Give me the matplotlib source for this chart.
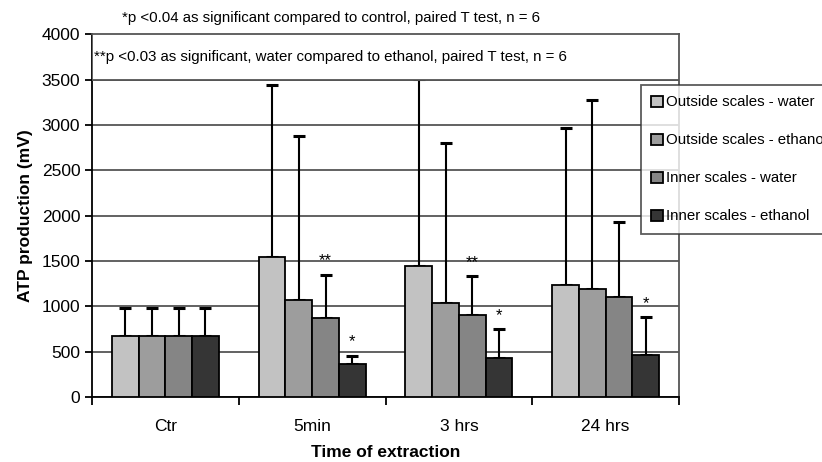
import matplotlib.pyplot as plt
import numpy as np
from matplotlib.patches import Rectangle

plt.rcParams['font.family'] = ['Liberation Sans', 'DejaVu Sans']

categorias = ['Ctr', '5min', '3 hrs', '24 hrs']
series = ['Outside scales - water', 'Outside scales - ethanol',
          'Inner scales - water', 'Inner scales - ethanol']

# valores medios (mV)
out_agua = [670, 1540, 1445, 1235]
out_etanol = [670, 1065, 1030, 1185]
int_agua = [670, 865, 900, 1105]
int_etanol = [670, 360, 430, 465]

# desviacion (solo hacia arriba)
out_agua_sd = [315, 1900, 2060, 1730]
out_etanol_sd = [315, 1810, 1770, 2090]
int_agua_sd = [315, 480, 430, 820]
int_etanol_sd = [315, 95, 315, 415]

# marcas de significancia sobre cada barra
marcas_int_agua = ['', '**', '**', '']
marcas_int_etanol = ['', '*', '*', '*']

colores = ['#c2c2c2', '#9d9d9d', '#858585', '#353535']

fig = plt.figure(figsize=(8.22, 4.62), dpi=100)
ax = fig.add_axes([0.112, 0.141, 0.714, 0.785])

x = np.arange(len(categorias))
ancho = 0.182
medias = [out_agua, out_etanol, int_agua, int_etanol]
errores = [out_agua_sd, out_etanol_sd, int_agua_sd, int_etanol_sd]

for i in range(4):
    pos = x + (i - 1.5) * ancho
    ax.bar(pos, medias[i], ancho, color=colores[i], edgecolor='black',
           linewidth=1.3, label=series[i], zorder=3)
    # la barra tapa el cap inferior
    ax.errorbar(pos, medias[i], yerr=[np.zeros(4), errores[i]], fmt='none',
                ecolor='black', elinewidth=1.5, capsize=4.5, capthick=2.2, zorder=2.5)

for j in range(4):
    if marcas_int_agua[j]:
        ax.text(x[j] + 0.5 * ancho, int_agua[j] + int_agua_sd[j] + 70,
                marcas_int_agua[j], ha='center', va='bottom', fontsize=12)
    if marcas_int_etanol[j]:
        ax.text(x[j] + 1.5 * ancho, int_etanol[j] + int_etanol_sd[j] + 70,
                marcas_int_etanol[j], ha='center', va='bottom', fontsize=12)

ax.set_xlim(-0.5, 3.5)
ax.set_ylim(0, 4000)
ax.set_yticks(np.arange(0, 4001, 500))
ax.set_xticks(x)
ax.set_xticklabels(categorias)
ax.set_xticks(np.arange(-0.5, 4, 1), minor=True)
ax.tick_params(axis='x', which='major', length=0, pad=16, labelsize=12.5)
ax.tick_params(axis='x', which='minor', length=6, width=1.3, direction='out')
ax.tick_params(axis='y', length=5, width=1.3, labelsize=12.5)
ax.yaxis.grid(True, color='#555555', linewidth=1.3, zorder=0)
for s in ax.spines.values():
    s.set_linewidth(1.3)
    s.set_color('#555555')
ax.spines['bottom'].set_color('black')
ax.spines['left'].set_color('black')

ax.set_ylabel('ATP production (mV)', fontsize=12.5, fontweight='bold', labelpad=6)
ax.set_xlabel('Time of extraction', fontsize=12.5, fontweight='bold', labelpad=8)

# caja de texto dentro del grafico
ax.add_patch(Rectangle((-0.5, 3500), 4, 500, facecolor='white',
                       edgecolor='#555555', linewidth=1.3, zorder=5))
ax.text(-0.485, 3750, '**p <0.03 as significant, water compared to ethanol, paired T test, n = 6',
        fontsize=10.8, va='center', ha='left', zorder=6)
fig.text(0.148, 0.962, '*p <0.04 as significant compared to control, paired T test, n = 6',
         fontsize=10.8, va='center', ha='left')

leg = ax.legend(loc='upper left', bbox_to_anchor=(0.935, 0.86), frameon=True,
                fancybox=False, edgecolor='#333333', fontsize=10.8,
                handlelength=0.75, handleheight=0.75, handletextpad=0.25,
                labelspacing=1.6, borderpad=0.7, borderaxespad=0)
leg.get_frame().set_linewidth(1.3)
leg.set_zorder(10)

plt.savefig('out.png', dpi=100)
